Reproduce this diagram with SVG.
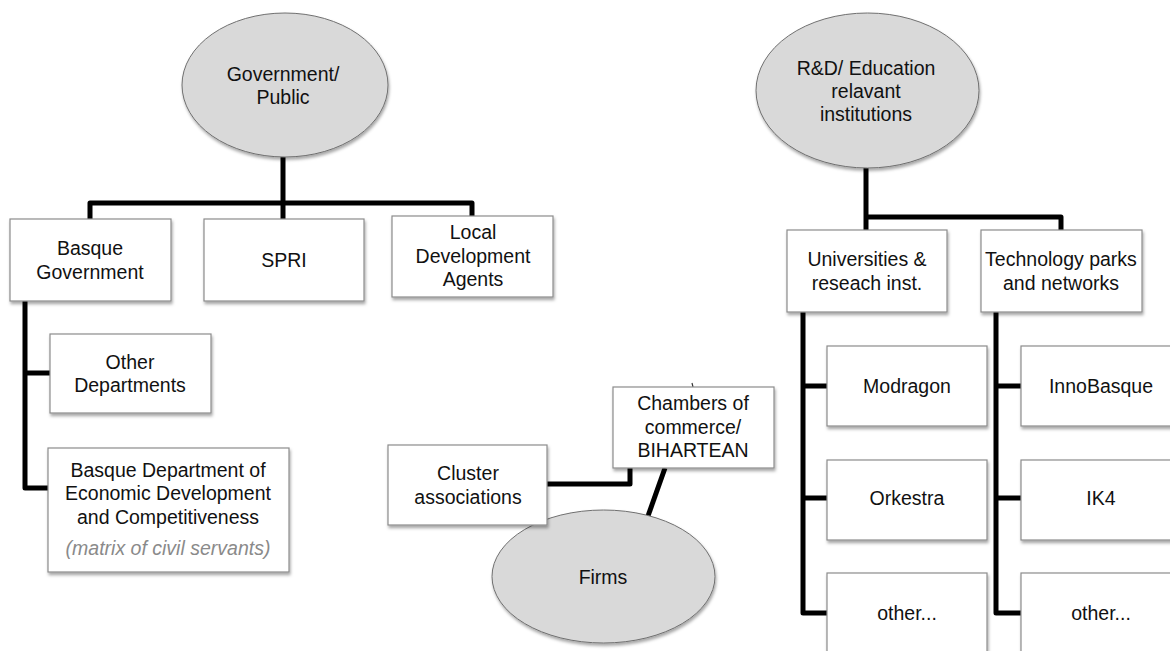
<svg xmlns="http://www.w3.org/2000/svg" width="1170" height="651" viewBox="0 0 1170 651">
<defs>
<filter id="sh" x="-10%" y="-10%" width="130%" height="140%">
<feDropShadow dx="1" dy="2.5" stdDeviation="1.5" flood-color="#000" flood-opacity="0.35"/>
</filter>
<style>
.box{fill:#fff;stroke:#8c8c8c;stroke-width:1.2;filter:url(#sh)}
.ell{fill:#d9d9d9;stroke:#707070;stroke-width:1;filter:url(#sh)}
.t{font-family:"Liberation Sans",Arial,sans-serif;font-size:19.5px;fill:#111;text-anchor:middle}
.i{font-style:italic;fill:#8a8a8a}
.con{fill:none;stroke:#000;stroke-width:5;stroke-linejoin:round}
</style>
</defs>
<rect width="1170" height="651" fill="#fff"/>

<g id="connectors">
<path class="con" d="M283,157 V219"/>
<path class="con" d="M90,219 V203 H472 V216"/>
<path class="con" d="M25,301 V488 H48 M25,373 H50"/>
<path class="con" d="M866,168 V230"/>
<path class="con" d="M866,217 H1061 V230"/>
<path class="con" d="M803,312 V613 H827 M803,386 H827 M803,498 H827"/>
<path class="con" d="M996,312 V613 H1021 M996,386 H1021 M996,498 H1021"/>
<path class="con" d="M547,484 H630 V468"/>
<path class="con" d="M665,468 L648,516"/>
<path d="M692,383 L693,387" stroke="#333" stroke-width="1.2" fill="none"/>
</g>

<g id="gov">
<ellipse class="ell" cx="285" cy="85" rx="103" ry="72"/>
<text class="t" x="283" y="81">Government/</text>
<text class="t" x="283" y="104">Public</text>
</g>
<g id="basque-gov">
<rect class="box" x="10" y="219" width="161" height="82"/>
<text class="t" x="90" y="255">Basque</text>
<text class="t" x="90" y="279">Government</text>
</g>
<g id="spri">
<rect class="box" x="204" y="219" width="160" height="82"/>
<text class="t" x="284" y="267">SPRI</text>
</g>
<g id="local">
<rect class="box" x="392" y="216" width="161" height="81"/>
<text class="t" x="473" y="239">Local</text>
<text class="t" x="473" y="263">Development</text>
<text class="t" x="473" y="286">Agents</text>
</g>
<g id="other-dep">
<rect class="box" x="50" y="334" width="161" height="79"/>
<text class="t" x="130" y="369">Other</text>
<text class="t" x="130" y="392">Departments</text>
</g>
<g id="basque-dept">
<rect class="box" x="48" y="448" width="241" height="124"/>
<text class="t" x="168" y="477">Basque Department of</text>
<text class="t" x="168" y="500">Economic Development</text>
<text class="t" x="168" y="524">and Competitiveness</text>
<text class="t i" x="168" y="555">(matrix of civil servants)</text>
</g>

<g id="rd">
<ellipse class="ell" cx="867.5" cy="90.5" rx="111.5" ry="77.5"/>
<text class="t" x="866" y="75">R&amp;D/ Education</text>
<text class="t" x="866" y="98">relavant</text>
<text class="t" x="866" y="121">institutions</text>
</g>
<g id="univ">
<rect class="box" x="787" y="230" width="160" height="82"/>
<text class="t" x="867" y="266">Universities &amp;</text>
<text class="t" x="867" y="290">reseach inst.</text>
</g>
<g id="tech">
<rect class="box" x="981" y="230" width="161" height="82"/>
<text class="t" x="1061" y="266">Technology parks</text>
<text class="t" x="1061" y="290">and networks</text>
</g>
<g id="modragon">
<rect class="box" x="827" y="346" width="160" height="80"/>
<text class="t" x="907" y="393">Modragon</text>
</g>
<g id="orkestra">
<rect class="box" x="827" y="460" width="160" height="80"/>
<text class="t" x="907" y="505">Orkestra</text>
</g>
<g id="other-univ">
<rect class="box" x="827" y="573" width="160" height="90"/>
<text class="t" x="907" y="620">other...</text>
</g>
<g id="innobasque">
<rect class="box" x="1021" y="346" width="160" height="80"/>
<text class="t" x="1101" y="393">InnoBasque</text>
</g>
<g id="ik4">
<rect class="box" x="1021" y="460" width="160" height="80"/>
<text class="t" x="1101" y="505">IK4</text>
</g>
<g id="other-tech">
<rect class="box" x="1021" y="573" width="160" height="90"/>
<text class="t" x="1101" y="620">other...</text>
</g>

<g id="firms">
<ellipse class="ell" cx="603.5" cy="576.5" rx="111.5" ry="66.5"/>
<text class="t" x="603" y="584">Firms</text>
</g>
<g id="cluster">
<rect class="box" x="388" y="445" width="159" height="80"/>
<text class="t" x="468" y="480">Cluster</text>
<text class="t" x="468" y="504">associations</text>
</g>
<g id="chambers">
<rect class="box" x="613" y="387" width="161" height="81"/>
<text class="t" x="693" y="410">Chambers of</text>
<text class="t" x="693" y="434">commerce/</text>
<text class="t" x="693" y="457">BIHARTEAN</text>
</g>
</svg>
